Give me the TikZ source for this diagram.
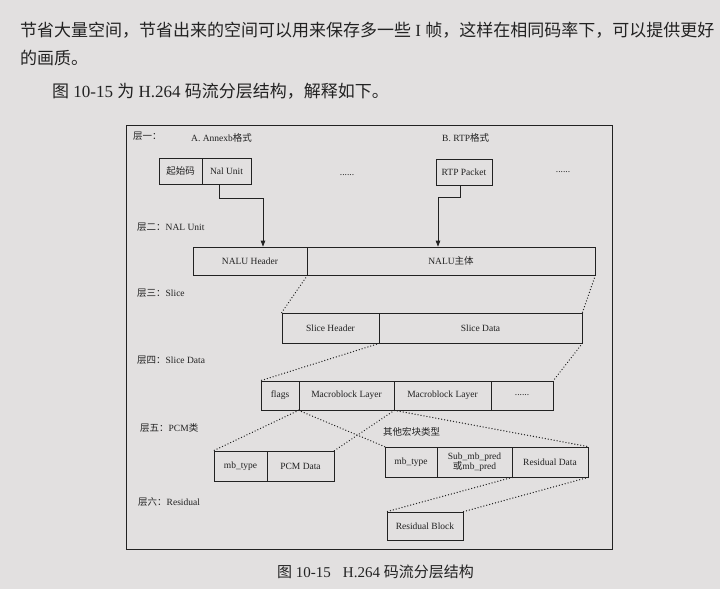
\documentclass[tikz,border=0pt]{standalone}
\usepackage{fontspec}
\setmainfont{Liberation Serif}
\newfontfamily\cjk{Noto Sans CJK SC}
\usetikzlibrary{arrows.meta}
\definecolor{paper}{RGB}{226,224,224}
\definecolor{ink}{RGB}{34,34,34}

% one rectangular cell given by its left, right, top and bottom edges
\newcommand\cellnode[6]{%
  \node[cell, minimum width={(#3)-(#2)}, minimum height={(#5)-(#4)}]
    (#1) at ({((#2)+(#3))/2},{((#4)+(#5))/2}) {#6};}

\begin{document}
\begin{tikzpicture}[x=1pt,y=-1pt,
  cell/.style={draw=ink, line width=0.7pt, inner sep=0pt, align=center,
    font=\fontsize{9.5}{10.5}\selectfont, text=ink},
  lbl/.style={anchor=west, inner sep=0pt, font=\fontsize{9.5}{11}\selectfont, text=ink},
  link/.style={draw=ink, line width=1.4pt, line cap=round, dash pattern=on 0.01pt off 3pt},
  arr/.style={draw=ink, line width=0.7pt, -{Triangle[length=6pt,width=4.5pt]}},
  bodytext/.style={anchor=west, inner sep=0pt, font=\fontsize{17}{20}\selectfont, text=ink}]

\fill[paper] (0,0) rectangle (720,589);
\useasboundingbox (0,0) rectangle (720,589);

% running text above the figure
\node[bodytext] (t1) at (20,30) {{\cjk 节省大量空间，节省出来的空间可以用来保存多一些} I {\cjk 帧，这样在相同码率下，可以提供更好}};
\node[bodytext] (t2) at (20,58) {{\cjk 的画质。}};
\node[bodytext] (t3) at (52,91) {{\cjk 图} 10-15 {\cjk 为} H.264 {\cjk 码流分层结构，解释如下。}};

% figure frame
\draw[ink, line width=0.9pt] (126,125) rectangle (612,549);

% layer titles
\node[lbl] (l1) at (133,136) {{\cjk 层一：}};
\node[lbl] (fa) at (191,138) {A. Annexb{\cjk 格式}};
\node[lbl] (fb) at (442,138) {B. RTP{\cjk 格式}};
\node[lbl] (l2) at (137,227) {{\cjk 层二：}NAL Unit};
\node[lbl] (l3) at (137,293) {{\cjk 层三：}Slice};
\node[lbl] (l4) at (137,360) {{\cjk 层四：}Slice Data};
\node[lbl] (l5) at (140,428) {{\cjk 层五：}PCM{\cjk 类}};
\node[lbl] (l5b) at (383,432) {{\cjk 其他宏块类型}};
\node[lbl] (l6) at (138,502) {{\cjk 层六：}Residual};

% layer 1
\cellnode{qsm}{159}{202}{158}{184}{{\cjk 起始码}}
\cellnode{nal}{202}{251}{158}{184}{Nal Unit}
\node[lbl, anchor=center] (d1) at (347,175) {......};
\cellnode{rtp}{436}{492}{159}{185}{RTP Packet}
\node[lbl, anchor=center] (d2) at (563,172) {......};

% layer 2
\cellnode{hdr}{193}{307}{247}{275}{NALU Header}
\cellnode{nbody}{307}{595}{247}{275}{NALU{\cjk 主体}}

% layer 3
\cellnode{sh}{282}{379}{313}{343}{Slice Header}
\cellnode{sd}{379}{582}{313}{343}{Slice Data}

% layer 4
\cellnode{flags}{261}{299}{381}{410}{flags}
\cellnode{mb1}{299}{394}{381}{410}{Macroblock Layer}
\cellnode{mb2}{394}{491}{381}{410}{Macroblock Layer}
\cellnode{mbd}{491}{553}{381}{410}{......}

% layer 5
\cellnode{mbt1}{214}{267}{451}{481}{mb\_type}
\cellnode{pcm}{267}{334}{451}{481}{PCM Data}
\cellnode{mbt2}{385}{437}{447}{477}{mb\_type}
\cellnode{sub}{437}{512}{447}{477}{Sub\_mb\_pred\\{\cjk 或}mb\_pred}
\cellnode{rd}{512}{588}{447}{477}{Residual Data}

% layer 6
\cellnode{rb}{387}{463}{512}{540}{Residual Block}

% arrows from layer 1 to the NAL unit
\coordinate (k1) at (263,198);
\coordinate (k2) at (438,197);
\draw[arr] ([xshift=-7.5pt]nal.south) |- (k1) -- (k1 |- hdr.north);
\draw[arr] ([xshift=-4pt]rtp.south) |- (k2) -- (k2 |- nbody.north);

% dotted expansions between layers
\draw[link] (hdr.south east) -- (sh.north west);
\draw[link] (nbody.south east) -- (sd.north east);
\draw[link] (sh.south east) -- (flags.north west);
\draw[link] (sd.south east) -- (mbd.north east);
\draw[link] (mb1.south west) -- (mbt1.north west);
\draw[link] (mb1.south west) -- (mbt2.north west);
\draw[link] (mb1.south east) -- (pcm.north east);
\draw[link] (mb1.south east) -- (rd.north east);
\draw[link] (sub.south east) -- (rb.north west);
\draw[link] (rd.south east) -- (rb.north east);

% caption
\node[anchor=west, inner sep=0pt, text=ink, font=\fontsize{15}{17}\selectfont] (cap) at (277,572)
  {{\cjk 图} 10-15\hspace{12pt}H.264 {\cjk 码流分层结构}};
\end{tikzpicture}
\end{document}
